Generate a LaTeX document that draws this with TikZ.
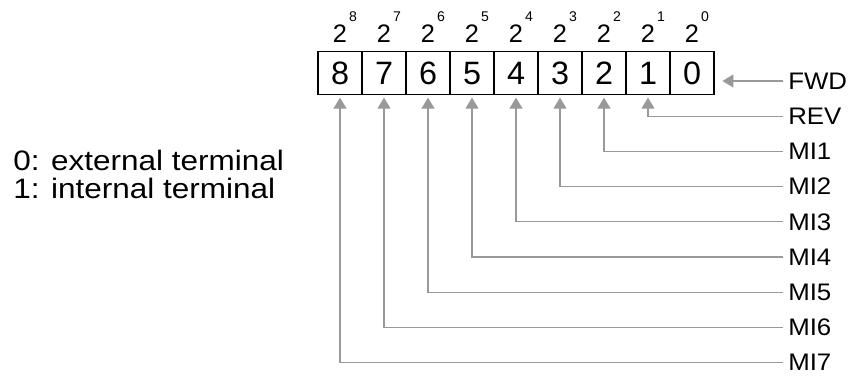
\documentclass[tikz,border=0pt]{standalone}
\usepackage{fontspec}
\setmainfont{Liberation Sans}
\newfontfamily\wideface[FakeStretch=1.12]{Liberation Sans}
\newfontfamily\labelface[FakeStretch=1.08]{Liberation Sans}
\usepackage{tikz}
\usetikzlibrary{arrows.meta, positioning}
\definecolor{wiregray}{RGB}{153,153,153}
\newcommand{\twopow}[1]{2\rlap{\kern1.5pt\raisebox{15pt}{\fontsize{10}{10}\selectfont #1}}}

\begin{document}
\begin{tikzpicture}[
    bit/.style={draw, line width=0.9pt, minimum width=1.1cm, minimum height=1.08cm, inner sep=0pt, outer sep=0pt, font=\fontsize{23}{23}\selectfont},
    weight/.style={inner sep=0pt, font=\fontsize{18}{18}\selectfont},
    terminal/.style={anchor=west, inner sep=0pt, font=\labelface\fontsize{17}{17}\selectfont},
    note/.style={anchor=base west, inner sep=0pt, font=\wideface\fontsize{20}{20}\selectfont},
    wire/.style={wiregray, line width=0.8pt, -{Triangle[width=9.2pt, length=7.8pt]}, shorten <=3.5pt, shorten >=2pt}
]
\useasboundingbox (0,0) rectangle (21.225,9.4);

% Bit boxes
\node[bit] (b8) at (8.5,7.57) {8};
\node[bit, right=0pt of b8] (b7) {7};
\node[bit, right=0pt of b7] (b6) {6};
\node[bit, right=0pt of b6] (b5) {5};
\node[bit, right=0pt of b5] (b4) {4};
\node[bit, right=0pt of b4] (b3) {3};
\node[bit, right=0pt of b3] (b2) {2};
\node[bit, right=0pt of b2] (b1) {1};
\node[bit, right=0pt of b1] (b0) {0};

% Weights
\node[weight, above=0.21cm of b8] (w8) {\twopow{8}};
\node[weight, above=0.21cm of b7] (w7) {\twopow{7}};
\node[weight, above=0.21cm of b6] (w6) {\twopow{6}};
\node[weight, above=0.21cm of b5] (w5) {\twopow{5}};
\node[weight, above=0.21cm of b4] (w4) {\twopow{4}};
\node[weight, above=0.21cm of b3] (w3) {\twopow{3}};
\node[weight, above=0.21cm of b2] (w2) {\twopow{2}};
\node[weight, above=0.21cm of b1] (w1) {\twopow{1}};
\node[weight, above=0.21cm of b0] (w0) {\twopow{0}};

% Terminals
\node[terminal] (fwd) at (19.7,7.375) {FWD};
\node[terminal] (rev) at (19.7,6.495) {REV};
\node[terminal] (mi1) at (19.7,5.615) {MI1};
\node[terminal] (mi2) at (19.7,4.735) {MI2};
\node[terminal] (mi3) at (19.7,3.855) {MI3};
\node[terminal] (mi4) at (19.7,2.975) {MI4};
\node[terminal] (mi5) at (19.7,2.095) {MI5};
\node[terminal] (mi6) at (19.7,1.215) {MI6};
\node[terminal] (mi7) at (19.7,0.335) {MI7};

\draw[wire, shorten >=6pt] (fwd) -- (fwd -| b0.east);
\draw[wire] (rev) -| (b1);
\draw[wire] (mi1) -| (b2);
\draw[wire] (mi2) -| (b3);
\draw[wire] (mi3) -| (b4);
\draw[wire] (mi4) -| (b5);
\draw[wire] (mi5) -| (b6);
\draw[wire] (mi6) -| (b7);
\draw[wire] (mi7) -| (b8);

% Legend
\node[note] (ext) at (0.325,5.15) {0: external terminal};
\node[note] (int) at (0.325,4.45) {1: internal terminal};

\end{tikzpicture}
\end{document}
